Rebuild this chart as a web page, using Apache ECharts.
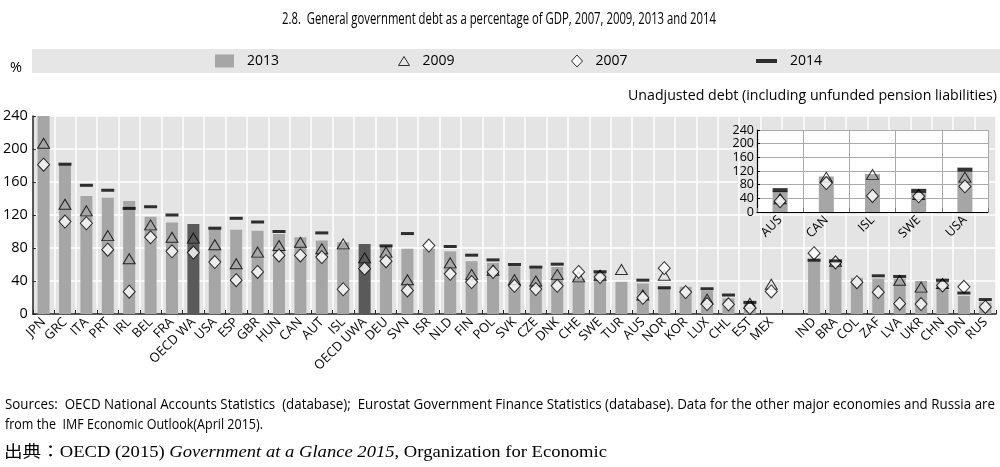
<!DOCTYPE html>
<html>
<head>
<meta charset="utf-8">
<script src="https://cdn.jsdelivr.net/npm/echarts@6/dist/echarts.min.js"></script>
<style>html,body{margin:0;padding:0;background:#fff}#c{width:1000px;height:467px}</style>
</head>
<body>
<div id="c"></div>
<script>
// ---- data ----
var categories = ['JPN','GRC','ITA','PRT','IRL','BEL','FRA','OECD WA','USA','ESP','GBR','HUN','CAN','AUT','ISL','OECD UWA','DEU','SVN','ISR','NLD','FIN','POL','SVK','CZE','DNK','CHE','SWE','TUR','AUS','NOR','KOR','LUX','CHL','EST','MEX','','IND','BRA','COL','ZAF','LVA','UKR','CHN','IDN','RUS'];
var v2013 = [243,181,143,141,137,118,111,109,103,102,101,97,93,89,87,85,82,79,79,76,64,62,58,55,57,43,50,39,37,31,33,28,19,13,null,null,64,63,44,43,43,40,40,22,14];
var v2009 = [207,133,125,95,67,108,93,92,84,61,75,83,87,79,85,68,75,41.5,null,62,48,53,41.5,40,48,45,47,54,23,47,null,18,null,13,36,null,null,64,null,null,41,32.6,37,null,null];
var v2007 = [181,112,110,78,27,93,76,74.5,63,41,51,71,71,69,30,55,64,28.6,83,48.7,38.7,51,34.2,30.2,34.2,51,44.7,null,19.7,55.6,26.6,12,11.7,7.3,27.4,null,73.7,62.5,38.5,26.5,12.5,12,34.6,33,8.5];
var v2014 = [null,181.6,156,150,128,130,120,null,104,116,111.5,100,null,98.3,null,null,82.6,97.5,null,81.8,71.3,65.6,60,56.8,60.4,null,51.2,null,41,31.8,null,30.6,23,14.1,null,null,65.2,64.4,null,46.3,45.5,null,41,25.4,17.5];
var aggregates = ['OECD WA','OECD UWA'];

var insetCategories = ['AUS','CAN','ISL','SWE','USA'];
var inset2013 = [61,104,111,59,120];
var inset2009 = [39,102,110,51,102];
var inset2007 = [31.5,84.6,47,46,75];
var inset2014 = [64,null,null,62,124];

var yTicks = {min:0, max:240, interval:40};

var titleText = '2.8.  General government debt as a percentage of GDP, 2007, 2009, 2013 and 2014';
var noteText = 'Unadjusted debt (including unfunded pension liabilities)';
var source1 = 'Sources:  OECD National Accounts Statistics  (database);  Eurostat Government Finance Statistics (database). Data for the other major economies and Russia are';
var source2 = 'from the  IMF Economic Outlook(April 2015).';
var citeA = '出典：OECD (2015) ';
var citeB = 'Government at a Glance 2015';
var citeC = ', Organization for Economic';

// ---- helpers ----
var SANS_NAME = 'Open Sans';
var SANS = '"Open Sans","Liberation Sans",sans-serif';
var SERIF = '"Liberation Serif","Noto Sans CJK JP",serif';
var mctx = document.createElement('canvas').getContext('2d');
function measure(text, font){ mctx.font = font; return mctx.measureText(text).width; }
function fitted(text, size, target, x, y, align){
  var s = target / measure(text, size + 'px ' + SANS);
  return {type:'text', x:x, y:y, scaleX:s, z:10,
    style:{text:text, fontFamily:SANS_NAME, fontSize:size, fill:'#000',
      align:align, verticalAlign:'middle', textAlign:align, textVerticalAlign:'middle'}};
}

var citeSize = 16;
var citeW = measure(citeA, citeSize + 'px ' + SERIF) + measure(citeB, 'italic ' + citeSize + 'px ' + SERIF) + measure(citeC, citeSize + 'px ' + SERIF);
var citeScale = 603 / citeW;

// ---- chart ----
var chart = echarts.init(document.getElementById('c'), null, {renderer:'canvas'});

var barData = v2013.map(function(v,i){
  return aggregates.indexOf(categories[i])>=0 ? {value:v, itemStyle:{color:'#5a5a5a'}} : v;
});

var triStyle = {color:'rgba(0,0,0,0)', borderColor:'#000', borderWidth:1};
var diaStyle = {color:'#fff', borderColor:'#000', borderWidth:1};

function legendItem(name, left, icon, w, h, style){
  return {data:[{name:name, icon:icon}], left:left, top:54, padding:0, itemWidth:w, itemHeight:h,
    selectedMode:false, itemStyle:style,
    textStyle:{fontFamily:SANS, fontSize:14, color:'#000', padding:[0,0,0,8]}};
}

var option = {
  animation:false,
  backgroundColor:'#fff',
  graphic:[
    {type:'rect', left:32, top:49, shape:{width:968, height:24}, style:{fill:'#e6e6e6'}, z:-10},
    fitted(titleText, 16.5, 434, 499, 19, 'center'),
    fitted('%', 14, 12, 10, 68, 'left'),
    fitted(noteText, 15, 369, 997, 96, 'right'),
    fitted(source1, 14, 990, 5, 405, 'left'),
    fitted(source2, 14, 258, 5, 425, 'left'),
    {type:'text', x:4, y:453, scaleX:citeScale, z:10,
      style:{text:'{a|' + citeA + '}{b|' + citeB + '}{a|' + citeC + '}', verticalAlign:'middle', textVerticalAlign:'middle',
        rich:{a:{fontFamily:SERIF, fontSize:citeSize, fontWeight:'normal', color:'#000'},
              b:{fontFamily:SERIF, fontSize:citeSize, fontStyle:'italic', fontWeight:'normal', color:'#000'}}}}
  ],
  legend:[
    legendItem('2013', 215, 'rect', 19, 13, {color:'#a6a6a6'}),
    legendItem('2009', 398, 'triangle', 11, 9, {color:'rgba(0,0,0,0)', borderColor:'#000', borderWidth:1}),
    legendItem('2007', 571, 'diamond', 11, 12, {color:'#fff', borderColor:'#000', borderWidth:1}),
    legendItem('2014', 756, 'rect', 21, 4, {color:'#000'})
  ],
  grid:[
    {left:30, right:4, top:116, bottom:153, show:true, backgroundColor:'#e4e4e4', borderWidth:0, z:0},
    {left:757, right:12, top:130, height:82, show:true, backgroundColor:'#ffffff', borderWidth:0, z:1}
  ],
  xAxis:[
    {type:'category', gridIndex:0, data:categories,
      axisLine:{lineStyle:{color:'#222', width:1.5}},
      axisTick:{show:true, inside:true, length:4, lineStyle:{color:'#222'}},
      axisLabel:{rotate:45, interval:0, fontFamily:SANS, fontSize:13, color:'#000', margin:6},
      splitLine:{show:true, interval:0, lineStyle:{color:'#ffffff', width:1.5}}},
    {type:'category', gridIndex:1, data:insetCategories, z:2,
      axisLine:{lineStyle:{color:'#000', width:1.2}},
      axisTick:{show:true, inside:true, length:4, lineStyle:{color:'#777'}},
      axisLabel:{rotate:45, interval:0, fontFamily:SANS, fontSize:12.5, color:'#000', margin:6},
      splitLine:{show:true, interval:0, lineStyle:{color:'#aaaaaa', width:1}}}
  ],
  yAxis:[
    {type:'value', gridIndex:0, min:yTicks.min, max:yTicks.max, interval:yTicks.interval,
      axisLine:{show:true, lineStyle:{color:'#222', width:1.5}},
      axisTick:{show:true, inside:true, length:3, lineStyle:{color:'#222'}},
      axisLabel:{fontFamily:SANS, fontSize:14.5, color:'#000', margin:5},
      splitLine:{show:true, lineStyle:{color:'#ffffff', width:1.5}}},
    {type:'value', gridIndex:1, min:yTicks.min, max:yTicks.max, interval:yTicks.interval, z:2,
      axisLine:{show:true, lineStyle:{color:'#000', width:1.2}},
      axisTick:{show:true, inside:true, length:3, lineStyle:{color:'#000'}},
      axisLabel:{fontFamily:SANS, fontSize:12.5, color:'#000', margin:3, lineHeight:12},
      splitLine:{show:true, lineStyle:{color:'#aaaaaa', width:1}}}
  ],
  series:[
    {name:'2013', type:'bar', xAxisIndex:0, yAxisIndex:0, data:barData, barWidth:12, clip:true,
      itemStyle:{color:'#a6a6a6'}, z:2},
    {name:'2009', type:'scatter', xAxisIndex:0, yAxisIndex:0, data:v2009, symbol:'triangle', symbolSize:[12,10],
      itemStyle:triStyle, z:3},
    {name:'2007', type:'scatter', xAxisIndex:0, yAxisIndex:0, data:v2007, symbol:'diamond', symbolSize:[12,13],
      itemStyle:diaStyle, z:4},
    {name:'2014', type:'scatter', xAxisIndex:0, yAxisIndex:0, data:v2014, symbol:'rect', symbolSize:[13,3],
      itemStyle:{color:'#000'}, z:5},
    {name:'2013', type:'bar', xAxisIndex:1, yAxisIndex:1, data:inset2013, barWidth:15,
      itemStyle:{color:'#a6a6a6'}, z:6},
    {name:'2009', type:'scatter', xAxisIndex:1, yAxisIndex:1, data:inset2009, symbol:'triangle', symbolSize:[12,10],
      itemStyle:triStyle, z:7},
    {name:'2007', type:'scatter', xAxisIndex:1, yAxisIndex:1, data:inset2007, symbol:'diamond', symbolSize:[12,13],
      itemStyle:diaStyle, z:8},
    {name:'2014', type:'scatter', xAxisIndex:1, yAxisIndex:1, data:inset2014, symbol:'rect', symbolSize:[15,4],
      itemStyle:{color:'#000'}, z:9}
  ]
};
chart.setOption(option);
</script>
</body>
</html>
